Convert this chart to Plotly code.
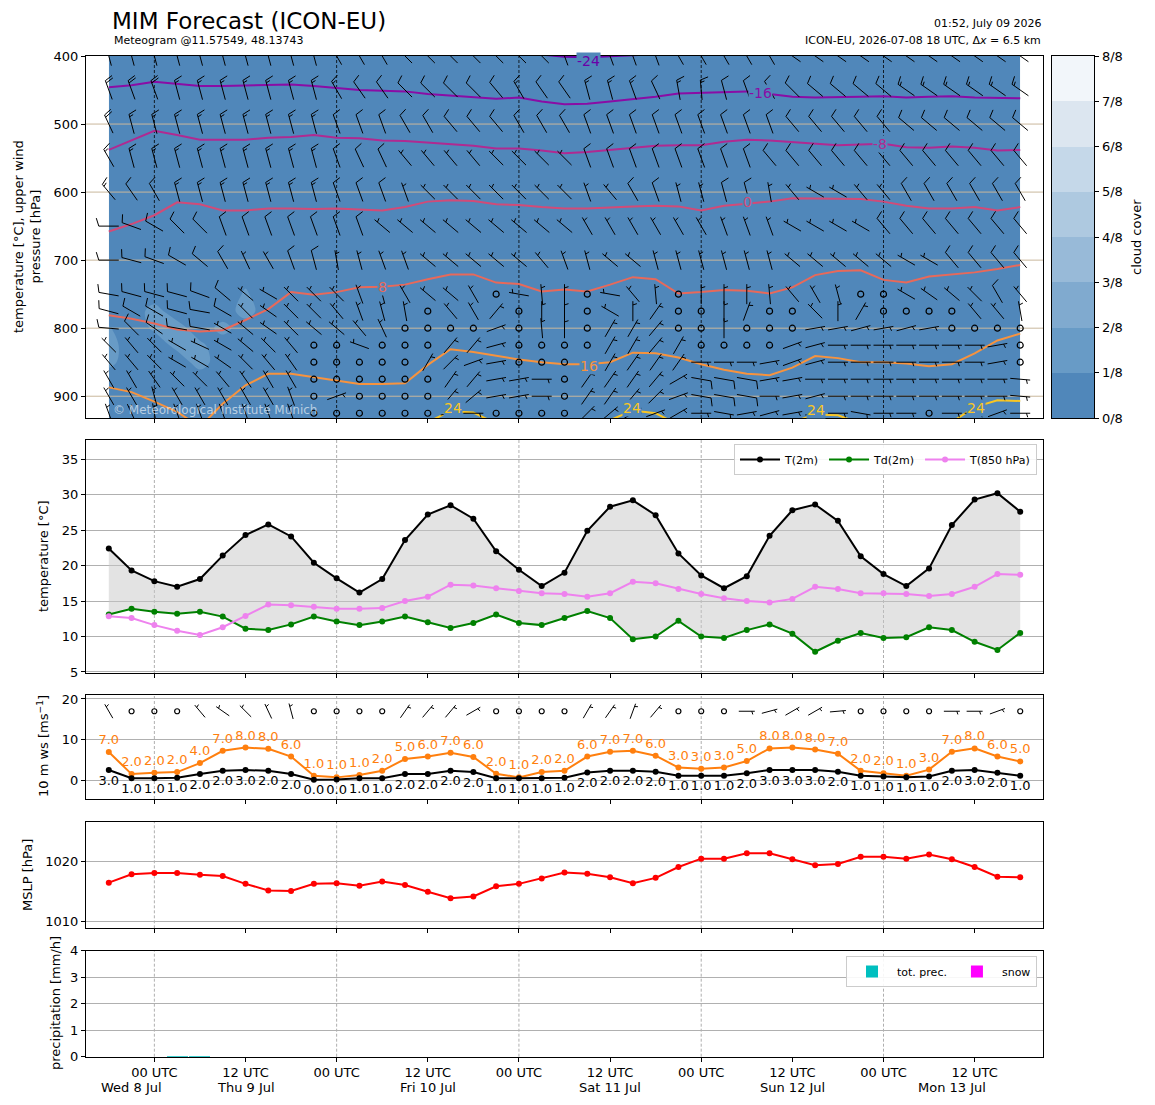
import numpy as np
import pandas as pd
import plotly.graph_objects as go

# --- time axis: ICON-EU run 2026-07-08 18 UTC, 3-hourly, 120 h ---
run_start = pd.Timestamp("2026-07-08 18:00")
valid_times = pd.date_range(run_start, periods=41, freq="3h")
hours = ((valid_times - run_start) / pd.Timedelta(hours=1)).to_numpy()

# --- surface series ---
t2m = [22.4, 19.3, 17.8, 17.0, 18.1, 21.4, 24.3, 25.8, 24.1, 20.4, 18.2, 16.2, 18.1, 23.6, 27.2, 28.5, 26.6, 22.0, 19.4, 17.1,
       19.0, 24.9, 28.3, 29.2, 27.1, 21.7, 18.6, 16.8, 18.5, 24.2, 27.8, 28.6, 26.3, 21.3, 18.8, 17.1, 19.6, 25.7, 29.3, 30.2, 27.6]
td2m = [13.1, 13.9, 13.5, 13.2, 13.5, 12.8, 11.1, 10.9, 11.7, 12.8, 12.1, 11.6, 12.1, 12.8, 12.0, 11.2, 11.9, 13.1, 11.9, 11.6,
        12.6, 13.6, 12.6, 9.6, 10.0, 12.2, 10.0, 9.8, 10.9, 11.7, 10.4, 7.85, 9.4, 10.5, 9.8, 9.9, 11.3, 10.9, 9.25, 8.1, 10.5]
t850 = [12.85, 12.6, 11.6, 10.8, 10.2, 11.3, 12.9, 14.5, 14.4, 14.2, 13.9, 13.9, 14.0, 15.0, 15.6, 17.3, 17.2, 16.8, 16.4, 16.1,
        16.0, 15.6, 16.1, 17.7, 17.5, 16.7, 16.0, 15.4, 15.0, 14.8, 15.3, 17.0, 16.7, 16.1, 16.1, 16.0, 15.7, 16.0, 17.0, 18.8, 18.7]
ws10 = [2.6, 0.6, 0.6, 0.7, 1.6, 2.4, 2.6, 2.4, 1.6, 0.2, 0.3, 0.6, 0.6, 1.6, 1.6, 2.4, 2.1, 0.6, 0.6, 0.6,
        0.7, 2.0, 2.4, 2.4, 2.2, 1.2, 1.2, 1.2, 1.8, 2.6, 2.6, 2.6, 2.2, 1.2, 1.0, 0.8, 1.0, 2.4, 2.6, 1.9, 1.2]
gust10 = [7.0, 1.6, 1.9, 2.1, 4.3, 7.3, 8.1, 7.8, 5.9, 1.2, 0.8, 1.4, 2.4, 5.3, 5.9, 6.8, 5.8, 1.7, 0.8, 2.1,
          2.4, 5.9, 7.1, 7.3, 6.1, 3.2, 2.9, 3.2, 4.8, 7.9, 8.1, 7.6, 6.6, 2.4, 1.8, 1.2, 2.7, 7.1, 7.9, 5.9, 4.7]
wd10 = [330, 340, 350, 340, 320, 305, 315, 335, 345, 0, 0, 0, 0, 35, 40, 40, 60, 30, 20, 30,
        40, 30, 35, 20, 40, 60, 70, 80, 90, 75, 60, 60, 85, 80, 70, 80, 85, 90, 90, 70, 80]
mslp = [1016.4, 1017.8, 1018.0, 1018.0, 1017.7, 1017.5, 1016.2, 1015.1, 1015.0, 1016.2, 1016.3, 1015.9, 1016.6, 1016.0,
        1014.9, 1013.8, 1014.1, 1015.8, 1016.2, 1017.1, 1018.1, 1017.9, 1017.3, 1016.3, 1017.2, 1019.0, 1020.4, 1020.4,
        1021.3, 1021.3, 1020.3, 1019.3, 1019.5, 1020.7, 1020.7, 1020.4, 1021.1, 1020.3, 1019.0, 1017.4, 1017.3]
tot_prec = [0, 0, 0, 0.03, 0.03, 0, 0, 0, 0, 0, 0, 0, 0, 0, 0, 0, 0, 0, 0, 0,
            0, 0, 0, 0, 0, 0, 0, 0, 0, 0, 0, 0, 0, 0, 0, 0, 0, 0, 0, 0, 0]
snow = [0, 0, 0, 0, 0, 0, 0, 0, 0, 0, 0, 0, 0, 0, 0, 0, 0, 0, 0, 0,
        0, 0, 0, 0, 0, 0, 0, 0, 0, 0, 0, 0, 0, 0, 0, 0, 0, 0, 0, 0, 0]

# --- upper air: isotherm heights [hPa] ---
iso_m24 = [380, 380, 378, 380, 382, 382, 382, 381, 381, 382, 384, 386, 387, 388, 390, 392, 394, 396, 395, 398,
           401, 402, 401, 399, 397, 393, 392, 392, 391, 394, 395, 396, 396, 395, 394, 395, 395, 394, 395, 396, 396]
iso_m16 = [446, 443, 438, 441, 444, 444, 443, 442, 442, 444, 447, 450, 451, 452, 456, 458, 461, 463, 461, 467,
           471, 470, 467, 464, 460, 455, 454, 454, 452, 456, 460, 461, 461, 460, 459, 461, 460, 459, 461, 462, 462]
iso_m8 = [538, 524, 510, 516, 523, 523, 523, 520, 519, 516, 520, 521, 524, 525, 527, 530, 532, 536, 536, 539,
          543, 541, 538, 536, 532, 531, 531, 526, 523, 524, 526, 529, 531, 530, 529, 534, 535, 533, 535, 539, 538]
iso_0 = [658, 647, 634, 615, 618, 627, 627, 624, 624, 625, 624, 625, 627, 622, 614, 612, 613, 618, 619, 622,
         624, 624, 622, 621, 620, 621, 627, 620, 617, 614, 609, 609, 609, 610, 614, 620, 624, 624, 622, 627, 622]
iso_8 = [781, 786, 793, 802, 805, 803, 788, 772, 747, 751, 747, 740, 739, 736, 728, 721, 721, 733, 735, 746,
         743, 746, 736, 725, 728, 749, 747, 744, 745, 749, 740, 722, 716, 715, 729, 733, 724, 721, 718, 713, 707]
iso_16 = [887, 894, 908, 923, 945, 911, 884, 867, 867, 872, 876, 882, 882, 881, 854, 831, 835, 841, 846, 850,
          853, 853, 850, 836, 837, 843, 853, 861, 867, 869, 858, 841, 844, 850, 850, 852, 856, 853, 837, 818, 808]
iso_24 = [950, 950, 950, 950, 950, 950, 950, 950, 950, 950, 950, 950, 950, 950, 938, 922, 924, 940, 950, 950,
          950, 950, 935, 921, 925, 942, 950, 950, 950, 950, 938, 927, 928, 940, 950, 950, 950, 938, 916, 906, 907]
iso_values = [-24, -16, -8, 0, 8, 16, 24]

# contour label spots (value, forecast hour, hPa)
iso_label_val = [-24, -16, -8, 0, 8, 16, 24, 24, 24, 24]
iso_label_h = [63.2, 85.8, 101.6, 84.1, 36.1, 63.2, 45.3, 68.9, 93.1, 114.2]
iso_label_p = [408, 454, 529, 615, 740, 856, 918, 917, 920, 918]

# --- upper air wind: direction [deg] and speed [kt] per pressure level ---
levels = [400, 450, 500, 550, 600, 650, 700, 750, 775, 800, 825, 850, 875, 900, 925]
dir_400 = [345, 345, 345, 345, 345, 345, 345, 345, 345, 345, 330, 330, 330, 315, 315, 315, 315, 315, 315, 315,
           340, 340, 340, 340, 340, 330, 330, 330, 330, 330, 305, 305, 305, 305, 305, 305, 305, 305, 305, 305, 305]
spd_400 = [20, 20, 20, 20, 20, 20, 20, 20, 20, 20, 20, 20, 20, 15, 15, 15, 15, 15, 15, 15,
           15, 15, 15, 15, 15, 15, 15, 15, 15, 15, 15, 15, 15, 15, 15, 15, 15, 15, 15, 15, 15]
dir_450 = [340, 340, 340, 345, 345, 345, 345, 345, 345, 345, 330, 325, 325, 315, 315, 315, 315, 320, 330, 325,
           325, 345, 345, 340, 335, 350, 355, 345, 340, 330, 315, 310, 310, 310, 310, 305, 305, 305, 305, 305, 305]
spd_450 = [20, 20, 20, 15, 15, 15, 15, 15, 15, 15, 15, 10, 10, 10, 10, 10, 10, 10, 15, 10,
           10, 15, 15, 15, 10, 15, 15, 10, 10, 10, 10, 10, 10, 10, 10, 15, 15, 15, 15, 15, 15]
dir_500 = [335, 345, 345, 345, 345, 345, 345, 345, 345, 345, 340, 340, 340, 330, 330, 320, 320, 320, 330, 330,
           330, 340, 340, 340, 340, 340, 340, 340, 340, 340, 320, 320, 320, 320, 320, 310, 310, 310, 310, 310, 310]
spd_500 = [20, 15, 15, 15, 15, 15, 15, 15, 15, 15, 10, 10, 10, 10, 10, 10, 10, 10, 10, 10,
           10, 10, 10, 10, 10, 10, 10, 10, 10, 10, 10, 10, 10, 10, 10, 10, 10, 10, 10, 10, 10]
dir_550 = [330, 345, 345, 345, 345, 345, 345, 345, 345, 345, 340, 335, 335, 320, 320, 320, 320, 315, 315, 315,
           315, 340, 340, 340, 340, 340, 340, 340, 340, 320, 320, 320, 320, 320, 320, 320, 320, 320, 320, 320, 320]
spd_550 = [15, 15, 15, 15, 15, 15, 15, 15, 15, 15, 10, 10, 10, 5, 5, 5, 5, 5, 5, 5,
           5, 10, 10, 10, 10, 10, 10, 10, 10, 10, 10, 10, 10, 10, 10, 10, 10, 10, 10, 10, 10]
dir_600 = [320, 325, 330, 345, 345, 345, 345, 345, 345, 345, 340, 340, 340, 340, 315, 315, 315, 315, 315, 315,
           315, 340, 320, 330, 340, 345, 345, 345, 345, 350, 320, 300, 300, 320, 320, 330, 330, 330, 330, 330, 330]
spd_600 = [15, 10, 10, 15, 15, 15, 15, 15, 15, 15, 10, 10, 10, 5, 5, 5, 5, 5, 5, 5,
           5, 5, 5, 10, 10, 5, 5, 10, 10, 5, 5, 5, 5, 5, 5, 10, 10, 10, 10, 10, 10]
dir_650 = [270, 290, 300, 315, 315, 340, 340, 340, 340, 340, 340, 340, 310, 310, 310, 310, 310, 310, 310, 310,
           310, 330, 330, 330, 330, 330, 330, 340, 340, 340, 300, 300, 300, 300, 320, 320, 320, 320, 320, 320, 320]
spd_650 = [10, 10, 10, 10, 10, 10, 10, 10, 10, 10, 10, 10, 5, 5, 5, 5, 5, 5, 5, 5,
           5, 5, 5, 5, 5, 5, 5, 5, 5, 5, 5, 5, 5, 5, 10, 10, 10, 10, 10, 10, 10]
dir_700 = [270, 285, 290, 300, 310, 330, 335, 330, 340, 345, 350, 345, 340, 340, 310, 310, 310, 310, 310, 320,
           340, 345, 310, 310, 345, 345, 345, 345, 345, 345, 310, 310, 310, 310, 310, 300, 300, 320, 320, 320, 320]
spd_700 = [10, 10, 10, 10, 10, 10, 5, 5, 10, 10, 5, 5, 5, 5, 5, 5, 5, 5, 5, 5,
           5, 5, 5, 5, 5, 5, 5, 5, 5, 5, 5, 5, 5, 5, 5, 5, 5, 10, 10, 10, 10]
dir_750 = [280, 285, 285, 285, 290, 310, 310, 300, 315, 315, 315, 340, 345, 330, 310, 310, 330, 0, 280, 355,
           0, 0, 280, 320, 355, 0, 0, 0, 0, 355, 320, 330, 345, 0, 0, 300, 305, 310, 315, 330, 320]
spd_750 = [10, 10, 10, 10, 10, 10, 5, 5, 5, 5, 5, 5, 5, 5, 5, 5, 5, 0, 5, 5,
           5, 0, 5, 5, 5, 0, 5, 5, 5, 5, 5, 5, 5, 0, 0, 5, 5, 5, 5, 10, 5]
dir_775 = [285, 300, 300, 285, 280, 300, 315, 305, 315, 315, 320, 340, 345, 350, 0, 320, 330, 40, 0, 0,
           0, 0, 300, 0, 35, 0, 0, 0, 20, 0, 0, 315, 0, 30, 0, 0, 0, 0, 320, 320, 350]
spd_775 = [10, 10, 10, 10, 10, 10, 5, 5, 5, 5, 5, 5, 5, 5, 0, 5, 5, 5, 0, 5,
           5, 0, 5, 5, 5, 0, 0, 5, 5, 0, 0, 5, 5, 5, 0, 0, 0, 0, 5, 5, 5]
dir_800 = [275, 315, 305, 280, 280, 300, 310, 305, 315, 310, 310, 320, 335, 0, 0, 0, 0, 70, 0, 355,
           0, 0, 30, 30, 40, 0, 0, 0, 0, 0, 0, 80, 80, 75, 80, 75, 80, 0, 0, 0, 0]
spd_800 = [10, 10, 10, 10, 10, 5, 5, 5, 5, 5, 5, 5, 5, 0, 0, 0, 0, 5, 0, 5,
           5, 0, 5, 5, 5, 0, 0, 5, 0, 0, 0, 5, 5, 5, 5, 5, 5, 0, 0, 0, 0]
dir_825 = [315, 320, 315, 300, 295, 300, 310, 315, 320, 0, 0, 290, 0, 0, 0, 40, 40, 75, 0, 0,
           0, 0, 30, 30, 40, 30, 0, 0, 0, 0, 70, 75, 90, 90, 90, 90, 90, 90, 90, 80, 0]
spd_825 = [5, 5, 5, 5, 5, 5, 5, 5, 5, 0, 0, 5, 0, 0, 0, 5, 5, 5, 0, 0,
           0, 0, 5, 5, 5, 5, 0, 0, 0, 0, 5, 5, 5, 5, 5, 5, 5, 5, 5, 5, 0]
dir_850 = [320, 320, 315, 300, 300, 305, 315, 320, 325, 0, 0, 0, 0, 0, 30, 45, 70, 80, 0, 0,
           0, 0, 30, 35, 35, 35, 90, 90, 90, 80, 70, 75, 90, 90, 90, 90, 90, 90, 90, 80, 0]
spd_850 = [5, 5, 5, 5, 5, 5, 5, 5, 5, 0, 0, 0, 0, 0, 5, 5, 5, 5, 0, 0,
           0, 0, 5, 5, 5, 5, 5, 5, 5, 5, 5, 5, 5, 5, 5, 5, 5, 5, 5, 5, 0]
dir_875 = [330, 330, 325, 315, 315, 320, 325, 330, 330, 0, 0, 0, 0, 0, 0, 35, 40, 80, 80, 90,
           0, 35, 35, 35, 40, 60, 100, 100, 100, 80, 80, 90, 90, 90, 90, 90, 90, 90, 90, 90, 95]
spd_875 = [5, 5, 5, 5, 5, 5, 5, 5, 5, 0, 0, 0, 0, 0, 0, 5, 5, 5, 5, 5,
           0, 5, 5, 5, 5, 5, 10, 10, 10, 5, 5, 5, 5, 5, 5, 5, 5, 5, 5, 5, 5]
dir_900 = [330, 330, 345, 330, 330, 330, 330, 330, 340, 0, 70, 0, 0, 0, 0, 40, 50, 80, 80, 90,
           0, 35, 35, 40, 45, 70, 100, 100, 100, 90, 80, 75, 90, 90, 90, 90, 90, 90, 90, 90, 95]
spd_900 = [5, 5, 5, 5, 5, 5, 5, 5, 5, 0, 5, 0, 0, 0, 0, 5, 5, 5, 5, 5,
           0, 5, 5, 5, 5, 5, 10, 10, 10, 5, 5, 5, 5, 5, 5, 5, 5, 5, 5, 5, 5]
dir_925 = [340, 335, 350, 340, 340, 340, 340, 340, 340, 0, 0, 0, 0, 0, 0, 80, 90, 0, 0, 0,
           0, 45, 50, 60, 70, 60, 90, 100, 80, 75, 80, 80, 90, 100, 90, 90, 0, 90, 90, 70, 90]
spd_925 = [5, 5, 5, 5, 5, 5, 5, 5, 5, 0, 0, 0, 0, 0, 0, 5, 5, 0, 0, 0,
           0, 5, 5, 5, 5, 5, 5, 5, 5, 5, 5, 5, 5, 5, 5, 5, 0, 5, 5, 5, 5]

# --- cloud cover (fraction) where it is not zero: lower levels, first forecast hours ---
cloud_patch_levels = [750, 775, 800, 825, 850, 875]
cloud_patch = [
    [0.00, 0.00, 0.00, 0.00, 0.00, 0.00, 0.15, 0.00],
    [0.00, 0.00, 0.21, 0.00, 0.00, 0.00, 0.22, 0.00],
    [0.14, 0.00, 0.16, 0.22, 0.00, 0.20, 0.00, 0.00],
    [0.22, 0.00, 0.00, 0.19, 0.17, 0.00, 0.00, 0.00],
    [0.19, 0.00, 0.00, 0.00, 0.22, 0.00, 0.00, 0.00],
    [0.00, 0.00, 0.00, 0.00, 0.00, 0.00, 0.00, 0.00],
]

upper_dirs = [dir_400, dir_450, dir_500, dir_550, dir_600, dir_650, dir_700, dir_750,
              dir_775, dir_800, dir_825, dir_850, dir_875, dir_900, dir_925]
upper_spds = [spd_400, spd_450, spd_500, spd_550, spd_600, spd_650, spd_700, spd_750,
              spd_775, spd_800, spd_825, spd_850, spd_875, spd_900, spd_925]
isotherms = [iso_m24, iso_m16, iso_m8, iso_0, iso_8, iso_16, iso_24]
for arr in [t2m, td2m, t850, ws10, gust10, wd10, mslp, tot_prec, snow] + upper_dirs + upper_spds + isotherms:
    assert len(arr) == len(hours)

# --- page geometry (the page body adds an 8 px margin around the figure) ---
OFF = 8
W, H = 1155 - 2 * OFF, 1105 - 2 * OFF


def px_x(x):
    return (x - OFF) / W


def px_y(y):
    return 1 - (y - OFF) / H


def ydom(top_px, bottom_px):
    return [px_y(bottom_px), px_y(top_px)]


X_DOM = [px_x(86), px_x(1043)]
X_RANGE = [-3, 123]
DOM_UPPER = ydom(56, 418)
DOM_TEMP = ydom(440, 673)
DOM_WIND = ydom(694.5, 799)
DOM_MSLP = ydom(821.7, 928.3)
DOM_PREC = ydom(950.7, 1056.7)
CB_DOM = [px_x(1051.7), px_x(1094.3)]

P_RANGE = [932, 400]
T_RANGE = [4.85, 37.7]
WS_RANGE = [-4.5, 21.1]
MSLP_RANGE = [1008.8, 1026.55]
PR_RANGE = [0, 4]
BARB_ROW = 17  # height of the 10 m barb row in the wind panel

px_per_h = (X_DOM[1] - X_DOM[0]) * W / (X_RANGE[1] - X_RANGE[0])
px_per_hpa = (DOM_UPPER[1] - DOM_UPPER[0]) * H / (P_RANGE[0] - P_RANGE[1])
px_per_ms = (DOM_WIND[1] - DOM_WIND[0]) * H / (WS_RANGE[1] - WS_RANGE[0])

CLOUD_COLORS = ["#5087ba", "#689bc6", "#80aacf", "#98bad8", "#aec9e0", "#c5d8e9", "#dce6f0", "#f2f6fa"]
FILL_BLUE = CLOUD_COLORS[0]
ISO_COLORS = ["#6a00a8", "#8a0da5", "#b02a91", "#d14b78", "#e8695a", "#f7933e", "#f9c623"]
FONT = "DejaVu Sans"
FINE_DASH = "3px,2px"


def barbs(xc, yc, wdir, wspd_kt, length, sx, sy):
    """Matplotlib-style wind barbs (pivot middle) as polylines in data coordinates."""
    xs, ys, cx, cy = [], [], [], []
    spacing, height, width = 0.125 * length, 0.4 * length, 0.25 * length
    for x0, y0, d, s in zip(xc, yc, wdir, wspd_kt):
        n = 5 * round(s / 5)
        if n == 0:
            cx.append(x0)
            cy.append(y0)
            continue
        th = np.radians(d)
        up = np.array([np.sin(th), np.cos(th)])      # towards where the wind comes from
        side = np.array([np.cos(th), -np.sin(th)])   # feathers side (northern hemisphere)
        segs = [[-length / 2 * up, length / 2 * up]]
        off = length
        for _ in range((n % 50) // 10):
            base = (-length / 2 + off) * up
            segs.append([base, base + height * side + width / 2 * up])
            off -= spacing
        if n % 10 >= 5:
            if off == length:
                off -= 1.5 * spacing
            base = (-length / 2 + off) * up
            segs.append([base, base + height / 2 * side + width / 4 * up])
        for seg in segs:
            for p in seg:
                xs.append(x0 + p[0] / sx)
                ys.append(y0 + p[1] / sy)
            xs.append(None)
            ys.append(None)
    return xs, ys, cx, cy


fig = go.Figure()

# ---------- upper panel ----------
cloud_levels = levels + [950]
cloud = np.zeros((len(cloud_levels), len(hours)))
for row, lev in zip(cloud_patch, cloud_patch_levels):
    cloud[cloud_levels.index(lev), :len(row)] = row

fig.add_trace(go.Contour(
    x=hours, y=cloud_levels, z=cloud, xaxis="x", yaxis="y",
    autocontour=False, contours=dict(start=0.125, end=0.125, size=0.125, coloring="fill", showlines=False),
    colorscale=[[0, CLOUD_COLORS[0]], [0.6, CLOUD_COLORS[0]], [0.6, CLOUD_COLORS[1]], [1, CLOUD_COLORS[1]]],
    line=dict(width=0), showscale=False, hoverinfo="skip"))

top_ticks = [400, 500, 600, 700, 800, 900]
for lev in top_ticks[1:]:
    fig.add_trace(go.Scatter(x=X_RANGE, y=[lev, lev], xaxis="x", yaxis="y", mode="lines",
                             line=dict(color="#c9b79c", width=1), showlegend=False, hoverinfo="skip"))

tick_hours = [h for h in range(X_RANGE[0], X_RANGE[1] + 1)
              if (run_start + pd.Timedelta(hours=h)).hour in (0, 12)]
midnights = [h for h in tick_hours if (run_start + pd.Timedelta(hours=h)).hour == 0]
for m in midnights:
    fig.add_trace(go.Scatter(x=[m, m], y=P_RANGE, xaxis="x", yaxis="y", mode="lines",
                             line=dict(color="black", width=0.8, dash=FINE_DASH), showlegend=False,
                             hoverinfo="skip"))

for iso, col in zip(isotherms, ISO_COLORS):
    fig.add_trace(go.Scatter(x=hours, y=iso, xaxis="x", yaxis="y", mode="lines",
                             line=dict(color=col, width=2), showlegend=False, hoverinfo="skip"))

bx, by, cx, cy = [], [], [], []
for lev, d, s in zip(levels, upper_dirs, upper_spds):
    xs, ys, c1, c2 = barbs(hours, [lev] * len(hours), d, s, 20, px_per_h, -px_per_hpa)
    bx += xs
    by += ys
    cx += c1
    cy += c2
fig.add_trace(go.Scatter(x=bx, y=by, xaxis="x", yaxis="y", mode="lines", line=dict(color="black", width=1),
                         showlegend=False, hoverinfo="skip"))
fig.add_trace(go.Scatter(x=cx, y=cy, xaxis="x", yaxis="y", mode="markers",
                         marker=dict(symbol="circle-open", size=6, color="black", line=dict(width=1.2)),
                         showlegend=False, hoverinfo="skip"))

# colour bar for cloud cover
fig.add_trace(go.Heatmap(
    z=[[k] for k in range(8)], x=[0], y=[k + 0.5 for k in range(8)], xaxis="x6", yaxis="y6",
    colorscale=[c for k, col in enumerate(CLOUD_COLORS) for c in ([k / 8, col], [(k + 1) / 8, col])],
    zmin=-0.5, zmax=7.5, showscale=False, hoverinfo="skip"))

# ---------- temperature panel ----------
fig.add_trace(go.Scatter(x=hours, y=t2m, xaxis="x2", yaxis="y2", mode="lines", line=dict(width=0),
                         showlegend=False, hoverinfo="skip"))
fig.add_trace(go.Scatter(x=hours, y=td2m, xaxis="x2", yaxis="y2", mode="lines", line=dict(width=0),
                         fill="tonexty", fillcolor="rgba(200,200,200,0.5)", showlegend=False, hoverinfo="skip"))
for y, name, col in [(t2m, "T(2m)", "black"), (td2m, "Td(2m)", "green"), (t850, "T(850 hPa)", "violet")]:
    fig.add_trace(go.Scatter(x=hours, y=y, xaxis="x2", yaxis="y2", name=name, mode="lines+markers",
                             line=dict(color=col, width=2), marker=dict(color=col, size=6), legend="legend"))

# ---------- 10 m wind panel ----------
fig.add_trace(go.Scatter(x=hours, y=gust10, xaxis="x3", yaxis="y3", mode="lines+markers+text",
                         line=dict(color="#ff7f0e", width=2), marker=dict(color="#ff7f0e", size=6),
                         text=[f"{round(v):.1f}" for v in gust10], textposition="top center",
                         textfont=dict(color="#ff7f0e", size=13), showlegend=False, cliponaxis=False))
fig.add_trace(go.Scatter(x=hours, y=ws10, xaxis="x3", yaxis="y3", mode="lines+markers+text",
                         line=dict(color="black", width=2), marker=dict(color="black", size=6),
                         text=[f"{round(v):.1f}" for v in ws10], textposition="bottom center",
                         textfont=dict(color="black", size=13), showlegend=False, cliponaxis=False))
wx, wy, wcx, wcy = barbs(hours, [BARB_ROW] * len(hours), wd10, [v * 1.94384 for v in ws10], 16, px_per_h, px_per_ms)
fig.add_trace(go.Scatter(x=wx, y=wy, xaxis="x3", yaxis="y3", mode="lines", line=dict(color="black", width=1),
                         showlegend=False, hoverinfo="skip"))
fig.add_trace(go.Scatter(x=wcx, y=wcy, xaxis="x3", yaxis="y3", mode="markers",
                         marker=dict(symbol="circle-open", size=5, color="black", line=dict(width=1.2)),
                         showlegend=False, hoverinfo="skip"))

# ---------- MSLP panel ----------
fig.add_trace(go.Scatter(x=hours, y=mslp, xaxis="x4", yaxis="y4", mode="lines+markers",
                         line=dict(color="red", width=2), marker=dict(color="red", size=6), showlegend=False))

# ---------- precipitation panel ----------
fig.add_trace(go.Bar(x=hours, y=tot_prec, xaxis="x5", yaxis="y5", width=2.75, marker_color="#00bfbf",
                     marker_line_width=0, name="tot. prec.", legend="legend2"))
fig.add_trace(go.Bar(x=hours, y=snow, xaxis="x5", yaxis="y5", width=2.75, marker_color="#ff00ff",
                     marker_line_width=0, name="snow", legend="legend2"))

# ---------- axes ----------
axis_base = dict(showline=True, linecolor="black", linewidth=1, mirror=True, ticks="outside", ticklen=4,
                 tickcolor="black", tickfont=dict(size=13, color="black"), automargin=False, zeroline=False)
tick_text = [f"{(run_start + pd.Timedelta(hours=h)).hour:02d} UTC" for h in tick_hours]

layout_axes = {}
for i, dom in enumerate([DOM_UPPER, DOM_TEMP, DOM_WIND, DOM_MSLP, DOM_PREC], start=1):
    sfx = "" if i == 1 else str(i)
    layout_axes[f"xaxis{sfx}"] = dict(axis_base, domain=X_DOM, range=X_RANGE, anchor=f"y{sfx}",
                                      tickvals=tick_hours, ticktext=tick_text, showgrid=False,
                                      showticklabels=(i == 5))
grid = dict(showgrid=True, gridcolor="#b0b0b0", gridwidth=1)
layout_axes["yaxis"] = dict(axis_base, domain=DOM_UPPER, anchor="x", range=P_RANGE, tickvals=top_ticks,
                            showgrid=False)
layout_axes["yaxis2"] = dict(axis_base, **grid, domain=DOM_TEMP, anchor="x2", range=T_RANGE,
                             tickvals=[5, 10, 15, 20, 25, 30, 35])
layout_axes["yaxis3"] = dict(axis_base, **grid, domain=DOM_WIND, anchor="x3", range=WS_RANGE,
                             tickvals=[0, 10, 20])
layout_axes["yaxis4"] = dict(axis_base, **grid, domain=DOM_MSLP, anchor="x4", range=MSLP_RANGE,
                             tickvals=[1010, 1020])
layout_axes["yaxis5"] = dict(axis_base, **grid, domain=DOM_PREC, anchor="x5", range=PR_RANGE,
                             tickvals=[0, 1, 2, 3, 4])
layout_axes["xaxis6"] = dict(domain=CB_DOM, anchor="y6", range=[-0.5, 0.5], showticklabels=False, ticks="",
                             showline=True, linecolor="black", mirror=True, showgrid=False, zeroline=False,
                             automargin=False)
layout_axes["yaxis6"] = dict(axis_base, domain=DOM_UPPER, anchor="x6", side="right", range=[0, 8],
                             tickvals=list(range(9)), ticktext=[f"{k}/8" for k in range(9)], showgrid=False)

# vertical dashed midnight lines in the lower panels
shapes = []
for sfx in ["2", "3", "4", "5"]:
    for m in midnights:
        shapes.append(dict(type="line", xref=f"x{sfx}", yref=f"y{sfx} domain", x0=m, x1=m, y0=0, y1=1,
                           line=dict(color="#9a9a9a", width=0.8, dash=FINE_DASH), layer="below"))

# ---------- annotations ----------
ann = []
for val, h, p in zip(iso_label_val, iso_label_h, iso_label_p):
    ann.append(dict(x=h, y=p, xref="x", yref="y", text=str(val), showarrow=False,
                    font=dict(size=14, color=ISO_COLORS[iso_values.index(val)]),
                    bgcolor=FILL_BLUE, borderpad=0))

day_starts = pd.date_range(valid_times[0].normalize(), valid_times[-1].normalize(), freq="D")
for d in day_starts:
    lo = max(d, valid_times[0])
    hi = min(d + pd.Timedelta(days=1), valid_times[-1])
    mid_h = ((lo - run_start) + (hi - run_start)) / 2 / pd.Timedelta(hours=1)
    ann.append(dict(x=mid_h, y=px_y(1087), xref="x5", yref="paper", text=f"{d:%a} {d.day} {d:%b}",
                    showarrow=False, font=dict(size=13, color="black"), yanchor="middle"))

# axis titles (rotated), placed like the matplotlib labels
y_titles = [
    ("temperature [°C], upper wind<br>pressure [hPa]", 27, 237),
    ("temperature [°C]", 43, 556),
    ("10 m ws [ms<sup>−1</sup>]", 43, 746),
    ("MSLP [hPa]", 27, 875),
    ("precipitation [mm/h]", 55, 1003),
    ("cloud cover", 1137, 237),
]
for txt, xp, yp in y_titles:
    ann.append(dict(x=px_x(xp), y=px_y(yp), xref="paper", yref="paper", text=txt, showarrow=False,
                    textangle=-90, xanchor="center", yanchor="middle", font=dict(size=13, color="black")))

ann += [
    dict(x=px_x(110), y=px_y(21), xref="paper", yref="paper", text="MIM Forecast (ICON-EU)", showarrow=False,
         xanchor="left", yanchor="middle", font=dict(size=23, color="black")),
    dict(x=px_x(112), y=px_y(41), xref="paper", yref="paper", text="Meteogram @11.57549, 48.13743",
         showarrow=False, xanchor="left", yanchor="middle", font=dict(size=11, color="black")),
    dict(x=px_x(1043), y=px_y(24), xref="paper", yref="paper", text="01:52, July 09 2026", showarrow=False,
         xanchor="right", yanchor="middle", font=dict(size=11, color="black")),
    dict(x=px_x(1043), y=px_y(41), xref="paper", yref="paper",
         text="ICON-EU, 2026-07-08 18 UTC, Δ<i>x</i> = 6.5 km", showarrow=False,
         xanchor="right", yanchor="middle", font=dict(size=11, color="black")),
    dict(x=px_x(111), y=px_y(410), xref="paper", yref="paper", text="© Meteorological Institute Munich",
         showarrow=False, xanchor="left", yanchor="middle", font=dict(size=12, color="rgba(255,255,255,0.6)")),
]

fig.update_layout(
    width=W, height=H, margin=dict(l=0, r=0, t=0, b=0),
    paper_bgcolor="white", plot_bgcolor="white",
    font=dict(family=FONT, color="black"),
    barmode="overlay", bargap=0,
    annotations=ann, shapes=shapes,
    legend=dict(x=px_x(1037), y=px_y(444), xanchor="right", yanchor="top", orientation="h",
                traceorder="normal", bgcolor="rgba(255,255,255,0.9)", bordercolor="#cccccc", borderwidth=1,
                font=dict(size=11), itemwidth=40),
    legend2=dict(x=px_x(1037), y=px_y(956), xanchor="right", yanchor="top", orientation="h",
                 traceorder="normal", bgcolor="rgba(255,255,255,0.9)", bordercolor="#cccccc", borderwidth=1,
                 font=dict(size=11), itemwidth=40),
    **layout_axes,
)

fig.write_html("out.html")
